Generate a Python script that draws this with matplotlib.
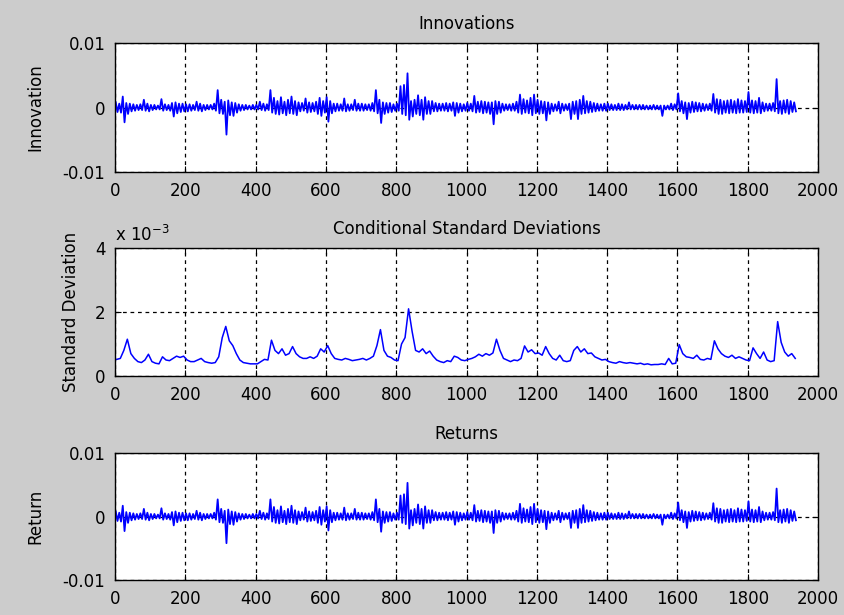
"""
Innovations, conditional standard deviations and returns (GARCH fit view).
"""
import numpy as np
import matplotlib
matplotlib.use("Agg")
import matplotlib.pyplot as plt

plt.rcParams["font.family"] = "DejaVu Sans"
plt.rcParams["axes.unicode_minus"] = False

# --------------------------- data --------------------------- #
BIN = 10  # samples per bin
N_OBS = 1936

# per-bin max / min of the innovations, units of 1e-3
innov_hi = [
    0.8, 0.6, 1.7, 0.7, 0.6, 0.5, 0.4, 0.5, 1.2, 0.6,
    0.4, 0.4, 0.3, 1.3, 0.5, 0.4, 0.7, 0.8, 0.6, 0.6,
    0.5, 0.5, 0.4, 0.9, 0.6, 0.4, 0.4, 0.4, 0.6, 2.7,
    1.2, 0.9, 1.1, 0.8, 0.7, 0.5, 0.4, 0.4, 0.3, 0.4,
    0.4, 0.9, 0.6, 0.5, 2.7, 1.5, 1.0, 1.6, 0.9, 1.2,
    1.7, 1.0, 0.8, 0.7, 1.4, 0.8, 0.7, 0.9, 1.5, 1.0,
    1.6, 1.0, 0.6, 0.6, 0.5, 1.4, 0.5, 0.5, 1.2, 0.6,
    0.6, 0.5, 0.5, 0.7, 2.7, 1.2, 0.8, 0.7, 0.7, 0.5,
    0.6, 3.3, 3.5, 5.3, 1.0, 1.2, 1.9, 1.2, 1.6, 1.0,
    1.0, 0.7, 0.6, 0.6, 0.7, 0.6, 0.8, 0.7, 0.6, 0.5,
    0.7, 0.6, 1.8, 0.9, 1.0, 0.9, 0.8, 0.8, 1.0, 0.9,
    0.6, 0.5, 0.5, 0.6, 0.9, 2.0, 1.3, 1.1, 1.5, 2.0,
    1.2, 1.0, 0.9, 0.8, 0.6, 0.5, 0.9, 0.6, 0.5, 0.6,
    0.9, 1.0, 1.2, 1.8, 1.0, 0.9, 0.7, 0.6, 0.5, 0.6,
    0.6, 0.5, 0.4, 0.6, 0.5, 0.4, 0.8, 0.4, 0.4, 0.4,
    0.4, 0.3, 0.3, 0.4, 0.3, 0.3, 0.3, 0.3, 0.6, 0.5,
    2.2, 1.0, 0.8, 0.7, 0.9, 0.8, 0.7, 0.6, 0.5, 0.6,
    2.1, 1.3, 1.2, 1.0, 1.1, 1.2, 1.0, 1.3, 1.1, 1.0,
    2.4, 1.1, 1.0, 1.5, 0.8, 0.6, 0.6, 0.7, 4.4, 1.0,
    1.1, 1.2, 1.0, 0.8,
]
innov_lo = [
    -0.7, -0.8, -2.3, -1.0, -0.6, -0.5, -0.4, -0.4, -0.5, -0.6,
    -0.4, -0.3, -0.3, -0.5, -0.4, -0.5, -1.4, -0.9, -0.7, -0.6,
    -0.6, -0.5, -0.4, -0.5, -0.6, -0.4, -0.3, -0.3, -0.5, -0.9,
    -1.0, -4.2, -1.2, -1.3, -0.8, -0.5, -0.4, -0.3, -0.3, -0.3,
    -0.3, -0.4, -0.5, -0.4, -0.8, -1.0, -1.1, -0.9, -1.2, -0.9,
    -1.0, -1.2, -0.6, -0.5, -0.8, -0.7, -0.6, -1.0, -1.3, -0.8,
    -2.2, -0.9, -0.6, -0.5, -0.5, -0.6, -0.5, -0.4, -0.5, -0.5,
    -0.5, -0.4, -0.5, -0.6, -0.9, -2.4, -1.0, -0.8, -0.7, -0.5,
    -0.5, -1.0, -1.2, -1.9, -1.4, -1.0, -1.2, -1.9, -1.0, -1.0,
    -0.6, -0.6, -0.5, -0.5, -0.6, -0.5, -1.3, -0.8, -0.6, -0.5,
    -0.5, -0.6, -0.8, -0.7, -0.9, -0.8, -1.0, -2.6, -1.0, -0.8,
    -0.5, -0.4, -0.5, -0.5, -0.8, -1.0, -0.8, -0.9, -1.2, -0.9,
    -1.0, -0.9, -2.0, -1.0, -0.6, -0.5, -0.9, -0.5, -0.4, -1.8,
    -1.0, -1.8, -1.0, -0.9, -0.8, -0.7, -0.6, -0.5, -0.5, -0.5,
    -0.4, -0.4, -0.4, -0.4, -0.4, -0.3, -0.3, -0.3, -0.3, -0.3,
    -0.3, -0.3, -0.3, -0.3, -0.3, -1.3, -0.3, -0.3, -0.4, -0.3,
    -0.6, -0.9, -1.8, -0.8, -0.7, -0.6, -0.6, -0.5, -0.4, -0.5,
    -0.8, -1.0, -1.0, -0.8, -0.9, -0.8, -0.9, -0.8, -0.8, -0.7,
    -0.8, -0.9, -0.8, -0.9, -0.6, -0.5, -0.5, -0.6, -0.9, -1.0,
    -0.8, -1.0, -0.7, -0.6,
]

# returns look the same as the innovations at this resolution
returns_hi = list(innov_hi)
returns_lo = list(innov_lo)

# conditional standard deviation per bin, units of 1e-3
sigma = [
    0.52, 0.55, 0.80, 1.15, 0.70, 0.55, 0.45, 0.42, 0.50, 0.68,
    0.45, 0.40, 0.38, 0.60, 0.50, 0.48, 0.55, 0.62, 0.58, 0.62,
    0.50, 0.45, 0.45, 0.50, 0.55, 0.45, 0.42, 0.40, 0.42, 0.60,
    1.20, 1.55, 1.10, 0.95, 0.70, 0.50, 0.42, 0.40, 0.38, 0.38,
    0.38, 0.45, 0.52, 0.50, 1.12, 0.80, 0.70, 0.85, 0.65, 0.70,
    0.92, 0.70, 0.60, 0.55, 0.55, 0.60, 0.55, 0.62, 0.85, 0.75,
    0.95, 0.70, 0.55, 0.52, 0.50, 0.55, 0.52, 0.48, 0.50, 0.52,
    0.55, 0.50, 0.55, 0.62, 0.95, 1.45, 0.80, 0.62, 0.58, 0.50,
    0.48, 1.00, 1.20, 2.10, 1.40, 0.80, 0.75, 0.85, 0.70, 0.78,
    0.62, 0.50, 0.45, 0.42, 0.48, 0.45, 0.62, 0.58, 0.50, 0.48,
    0.52, 0.55, 0.60, 0.68, 0.62, 0.70, 0.65, 0.72, 1.15, 0.80,
    0.55, 0.50, 0.45, 0.50, 0.48, 0.55, 0.94, 0.75, 0.82, 0.70,
    0.72, 0.65, 0.92, 0.70, 0.55, 0.50, 0.65, 0.48, 0.45, 0.48,
    0.80, 0.92, 0.75, 0.85, 0.70, 0.72, 0.60, 0.55, 0.50, 0.52,
    0.45, 0.42, 0.40, 0.45, 0.42, 0.40, 0.42, 0.40, 0.38, 0.40,
    0.36, 0.38, 0.35, 0.36, 0.36, 0.38, 0.36, 0.55, 0.38, 0.40,
    0.98, 0.70, 0.60, 0.58, 0.55, 0.65, 0.52, 0.50, 0.55, 0.52,
    1.10, 0.85, 0.70, 0.62, 0.58, 0.65, 0.55, 0.60, 0.55, 0.50,
    0.48, 0.88, 0.70, 0.55, 0.75, 0.50, 0.45, 0.48, 1.70, 1.05,
    0.75, 0.62, 0.70, 0.55,
]

x_ticks = [0, 200, 400, 600, 800, 1000, 1200, 1400, 1600, 1800, 2000]
ret_ticks = [-0.01, 0, 0.01]
ret_ticklabels = ["-0.01", "0", "0.01"]
sig_ticks = [0, 2, 4]
sig_ticklabels = ["0", "2", "4"]

BLUE = (0, 0, 1)
BG = "#cccccc"


def zigzag(hi, lo):
    """Interleave per-bin max/min so the trace fills the band like the dense series."""
    idx = np.arange(len(hi)) * BIN
    xs = np.column_stack((idx + 2, idx + 7)).ravel()
    ys = np.column_stack((hi, lo)).ravel() * 1e-3
    return xs, ys


def style(ax):
    ax.set_xlim(0, 2000)
    ax.set_xticks(x_ticks)
    ax.tick_params(direction="in", top=True, right=True, length=4,
                   labelsize=12, width=0.8)
    ax.tick_params(axis="x", pad=7)
    ax.tick_params(axis="y", pad=7)
    ax.grid(True, color="k", linestyle=(0, (3, 3)), linewidth=0.9)
    for sp in ax.spines.values():
        sp.set_linewidth(1.0)


fig = plt.figure(figsize=(8.44, 6.15), dpi=100, facecolor=BG)
ax_inn = fig.add_axes([0.1363, 0.7203, 0.833, 0.2098])
ax_sig = fig.add_axes([0.1363, 0.3886, 0.833, 0.2081])
ax_ret = fig.add_axes([0.1363, 0.0569, 0.833, 0.2065])

# innovations
xs, ys = zigzag(innov_hi, innov_lo)
ax_inn.plot(xs, ys, color=BLUE, linewidth=1.3)
style(ax_inn)
ax_inn.set_ylim(-0.01, 0.01)
ax_inn.set_yticks(ret_ticks)
ax_inn.set_yticklabels(ret_ticklabels)
ax_inn.set_title("Innovations", fontsize=12, pad=10)
ax_inn.set_ylabel("Innovation", fontsize=12)
ax_inn.yaxis.set_label_coords(-0.101, 0.5)

# conditional standard deviations
ax_sig.plot(np.arange(len(sigma)) * BIN + 5, sigma, color=BLUE, linewidth=1.1)
style(ax_sig)
ax_sig.set_ylim(0, 4)
ax_sig.set_yticks(sig_ticks)
ax_sig.set_yticklabels(sig_ticklabels)
ax_sig.set_title("Conditional Standard Deviations", fontsize=12, pad=10)
ax_sig.set_ylabel("Standard Deviation", fontsize=12)
ax_sig.yaxis.set_label_coords(-0.05, 0.5)
ax_sig.text(0, 1.025, r"x 10$^{-3}$", transform=ax_sig.transAxes,
            ha="left", va="bottom", fontsize=12)

# returns
xs, ys = zigzag(returns_hi, returns_lo)
ax_ret.plot(xs, ys, color=BLUE, linewidth=1.3)
style(ax_ret)
ax_ret.set_ylim(-0.01, 0.01)
ax_ret.set_yticks(ret_ticks)
ax_ret.set_yticklabels(ret_ticklabels)
ax_ret.set_title("Returns", fontsize=12, pad=10)
ax_ret.set_ylabel("Return", fontsize=12)
ax_ret.yaxis.set_label_coords(-0.101, 0.5)

fig.savefig("out.png", dpi=100, facecolor=BG)
